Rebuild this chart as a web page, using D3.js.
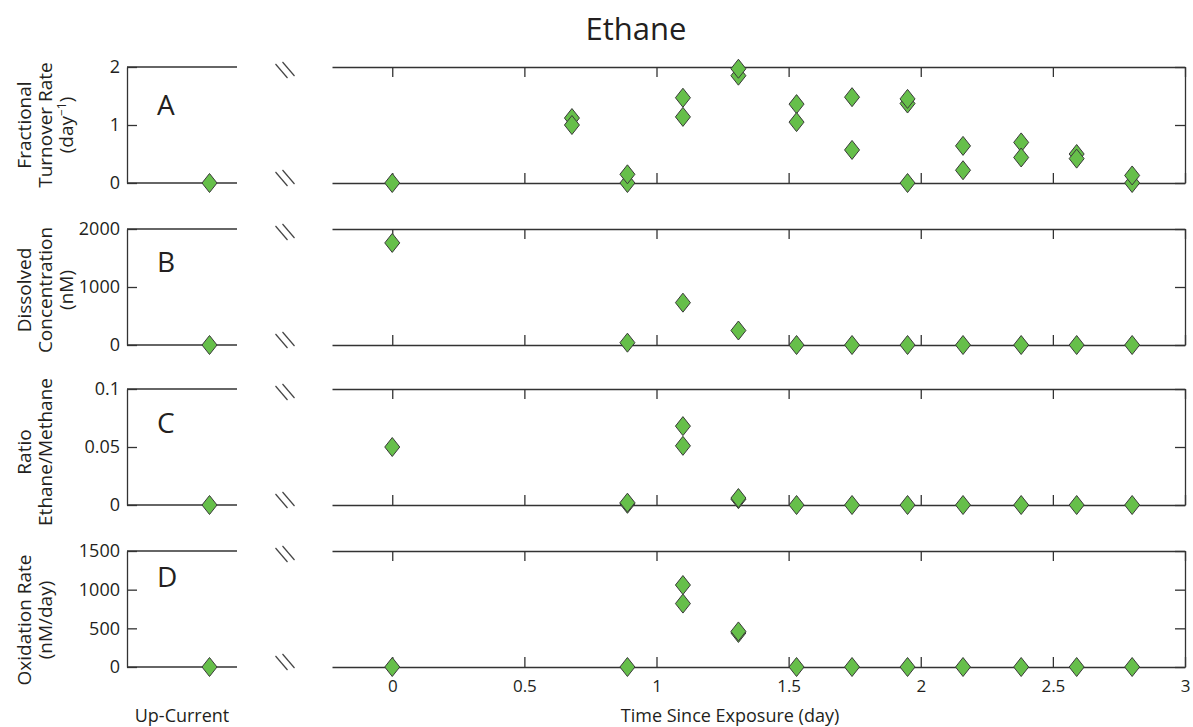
<!DOCTYPE html>
<html>
<head>
<meta charset="utf-8">
<script src="https://cdn.jsdelivr.net/npm/d3@7"></script>
<style>
  body { margin: 0; background: #fff; }
  text { font-family: "Open Sans", sans-serif; fill: #231f20; }
</style>
</head>
<body>
<script>
// Ethane, four stacked panels

// x ticks (time since exposure, day)
const timeTicks = [0, 0.5, 1, 1.5, 2, 2.5, 3];

// panel A - fractional turnover rate (day^-1)
const rateTime  = [0, 0.68, 0.68, 0.89, 0.89, 1.10, 1.10, 1.31, 1.31, 1.53, 1.53, 1.74, 1.74, 1.95, 1.95, 1.95, 2.16, 2.16, 2.38, 2.38, 2.59, 2.59, 2.80, 2.80];
const rateValue = [0, 1.12, 1.00, 0, 0.15, 1.47, 1.14, 1.85, 1.97, 1.36, 1.05, 1.48, 0.57, 1.37, 1.45, 0, 0.64, 0.22, 0.70, 0.44, 0.50, 0.42, 0, 0.13];
const rateTicks = [0, 1, 2];

// panel B - dissolved concentration (nM)
const concTime  = [0, 0.89, 1.10, 1.31, 1.53, 1.74, 1.95, 2.16, 2.38, 2.59, 2.80];
const concValue = [1760, 40, 730, 250, 0, 0, 0, 0, 0, 0, 0];
const concTicks = [0, 1000, 2000];

// panel C - ratio ethane/methane
const ratioTime  = [0, 0.89, 0.89, 1.10, 1.10, 1.31, 1.31, 1.53, 1.74, 1.95, 2.16, 2.38, 2.59, 2.80];
const ratioValue = [0.050, 0.001, 0.002, 0.068, 0.051, 0.005, 0.006, 0, 0, 0, 0, 0, 0, 0];
const ratioTicks = [0, 0.05, 0.1];

// panel D - oxidation rate (nM/day)
const oxTime  = [0, 0.89, 1.10, 1.10, 1.31, 1.31, 1.53, 1.74, 1.95, 2.16, 2.38, 2.59, 2.80];
const oxValue = [0, 0, 1060, 820, 440, 460, 0, 0, 0, 0, 0, 0, 0];
const oxTicks = [0, 500, 1000, 1500];

// up-current station, one value per panel
const upCurrentValue = [0, 0, 0, 0];
const upCurrentPos = 0.75;

const panels = [
  {letter: "A", time: rateTime, value: rateValue, ticks: rateTicks, label: ["Fractional", "Turnover Rate", "(day|−1|)"]},
  {letter: "B", time: concTime, value: concValue, ticks: concTicks, label: ["Dissolved", "Concentration", "(nM)"]},
  {letter: "C", time: ratioTime, value: ratioValue, ticks: ratioTicks, label: ["Ratio", "Ethane/Methane"]},
  {letter: "D", time: oxTime, value: oxValue, ticks: oxTicks, label: ["Oxidation Rate", "(nM/day)"]}
];

// layout (pixels)
const panelTop = [67, 229, 389, 551];
const panelH = 116;
const letterDy = [48, 43, 44, 36];
const labelCY = [125, 290, 452, 620];
const labelX = [31, 52, 73];

const W = 1193, H = 727;
const ink = "#333";

const x = d3.scaleLinear().domain([-0.228, 3]).range([332, 1185]);
const xl = d3.scaleLinear().domain([0, 1]).range([127, 237]);

const svg = d3.select("body").append("svg")
    .attr("width", W)
    .attr("height", H);

svg.append("text")
    .attr("x", 636)
    .attr("y", 40)
    .attr("text-anchor", "middle")
    .attr("font-size", 31)
    .text("Ethane");

const diamond = "M0,-9.5L7.5,0L0,9.5L-7.5,0Z";

const breakMark = function(g, cx, cy) {
  g.append("line").attr("x1", cx - 9.5).attr("y1", cy - 6).attr("x2", cx + 2.5).attr("y2", cy + 8);
  g.append("line").attr("x1", cx - 2.5).attr("y1", cy - 8).attr("x2", cx + 9.5).attr("y2", cy + 6);
};

panels.forEach(function(p, i) {
  const top = panelTop[i], bot = top + panelH;
  const dom = [0, p.ticks[p.ticks.length - 1]];
  const y = d3.scaleLinear().domain(dom).range([bot, top]);

  const g = svg.append("g");

  // left (up-current) box: left axis + top/bottom lines
  g.append("g")
      .attr("transform", `translate(${xl(0)},0)`)
      .call(d3.axisLeft(y).tickValues(p.ticks).tickSize(-10).tickSizeOuter(0).tickPadding(7).tickFormat(d => String(d)))
      .call(a => a.selectAll("text").attr("font-size", 18).attr("font-family", "Open Sans"));
  g.append("line").attr("x1", xl(0)).attr("x2", xl(1)).attr("y1", top).attr("y2", top);
  g.append("line").attr("x1", xl(0)).attr("x2", xl(1)).attr("y1", bot).attr("y2", bot);

  // right box: top, bottom and right axes
  g.append("g")
      .attr("transform", `translate(0,${top})`)
      .call(d3.axisTop(x).tickValues(timeTicks).tickSize(-10).tickSizeOuter(0).tickFormat(""));
  const bottomAxis = g.append("g")
      .attr("transform", `translate(0,${bot})`)
      .call(d3.axisBottom(x).tickValues(timeTicks).tickSize(-10).tickSizeOuter(0).tickPadding(13)
        .tickFormat(i == panels.length - 1 ? (d => String(d)) : ""));
  bottomAxis.selectAll("text").attr("font-size", 17).attr("font-family", "Open Sans");
  g.append("g")
      .attr("transform", `translate(${x(3)},0)`)
      .call(d3.axisRight(y).tickValues(p.ticks).tickSize(-10).tickSizeOuter(0).tickFormat(""));

  g.selectAll("path.domain, .tick line").attr("stroke", ink).attr("stroke-width", 1.3);
  g.selectAll(":scope > line").attr("stroke", ink).attr("stroke-width", 1.3);

  // axis break marks
  const bk = g.append("g").attr("stroke", "#444").attr("stroke-width", 1.2);
  breakMark(bk, 285, top + 3);
  breakMark(bk, 285, bot - 5);

  // panel letter
  g.append("text")
      .attr("x", 157)
      .attr("y", top + letterDy[i])
      .attr("font-size", 28)
      .text(p.letter);

  // y label, rotated, one line per entry
  const lab = g.append("text")
      .attr("transform", `translate(0,${labelCY[i]}) rotate(-90)`)
      .attr("text-anchor", "middle")
      .attr("font-size", 19);
  p.label.forEach(function(line, k) {
    const t = lab.append("tspan").attr("x", 0).attr("y", labelX[k]);
    const parts = line.split("|");
    t.text(parts[0]);
    if (parts.length > 1) {
      t.append("tspan").attr("font-size", 12).attr("dy", -7).text(parts[1]);
      t.append("tspan").attr("dy", 7).text(parts[2]);
    }
  });

  // points
  const pts = p.time.map((t, k) => [t, p.value[k]]);
  g.selectAll("path.pt")
    .data(pts)
    .join("path")
      .attr("class", "pt")
      .attr("d", diamond)
      .attr("transform", d => `translate(${x(d[0])},${y(d[1])})`)
      .attr("fill", "#66bf4a")
      .attr("stroke", "#3a3a3a")
      .attr("stroke-width", 1);

  g.append("path")
      .attr("d", diamond)
      .attr("transform", `translate(${xl(upCurrentPos)},${y(upCurrentValue[i])})`)
      .attr("fill", "#66bf4a")
      .attr("stroke", "#3a3a3a")
      .attr("stroke-width", 1);
});

// x axis titles
svg.append("text")
    .attr("x", xl(0.5))
    .attr("y", 722)
    .attr("text-anchor", "middle")
    .attr("font-size", 18)
    .text("Up-Current");

svg.append("text")
    .attr("x", 730)
    .attr("y", 722)
    .attr("text-anchor", "middle")
    .attr("font-size", 18)
    .text("Time Since Exposure (day)");
</script>
</body>
</html>
